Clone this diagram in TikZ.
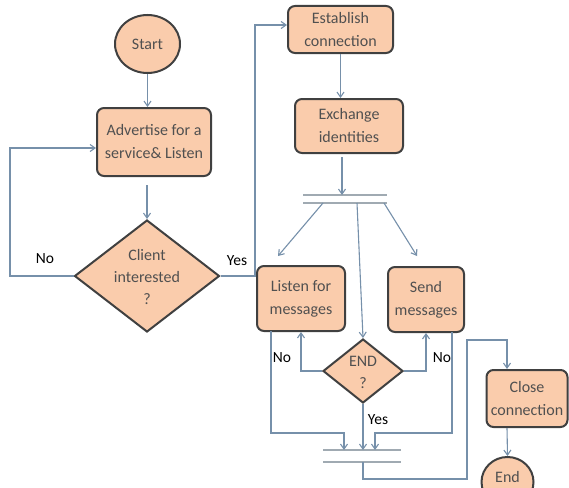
\documentclass[tikz,border=0pt]{standalone}
\usepackage{fontspec}
\setmainfont{Carlito}
\usetikzlibrary{shapes.geometric,arrows.meta}
\definecolor{peach}{RGB}{250,204,172}
\definecolor{edge}{RGB}{64,64,64}
\definecolor{txtc}{RGB}{80,80,80}
\definecolor{flow}{RGB}{118,144,170}
\definecolor{barc}{RGB}{160,170,178}
\tikzset{
  boxnode/.style={draw=edge, line width=2pt, fill=peach, rounded corners=7pt, inner sep=0pt,
    align=center, text=txtc, font=\fontsize{16}{23}\selectfont},
  ovalnode/.style={draw=edge, line width=2pt, fill=peach, ellipse, inner sep=0pt,
    text=txtc, font=\fontsize{16}{23}\selectfont},
  dianode/.style={draw=edge, line width=2pt, fill=peach, diamond, inner sep=0pt},
  diatext/.style={align=center, text=txtc, inner sep=0pt, font=\fontsize{16}{22}\selectfont},
  flowline/.style={draw=flow, line width=1.1pt, -{Straight Barb[length=5pt,width=7pt]}},
  barline/.style={draw=barc, line width=1.8pt},
  lbl/.style={text=black, inner sep=0pt, font=\fontsize{15.5}{18}\selectfont}
}
\begin{document}
\begin{tikzpicture}[x=1pt,y=-1pt]
\useasboundingbox (0,0) rectangle (569,487);
\fill[white] (0,0) rectangle (569,487);

% nodes
\node[ovalnode, minimum width=65, minimum height=58] (start) at (147.5,44) {Start};
\node[boxnode, minimum width=114, minimum height=68] (adv) at (154,142) {Advertise for a\\service\& Listen};
\node[dianode, minimum width=145, minimum height=112] (client) at (147,276) {};
\node[diatext] (clientt) at (147,277) {Client\\interested\\?};
\node[boxnode, minimum width=105, minimum height=47] (est) at (340.5,29.5) {Establish\\connection};
\node[boxnode, minimum width=108, minimum height=54] (exch) at (349,126) {Exchange\\identities};
\node[boxnode, minimum width=88, minimum height=65] (listen) at (301,298.5) {Listen for\\messages};
\node[boxnode, minimum width=76, minimum height=65] (send) at (426,299.5) {Send\\messages};
\node[dianode, minimum width=80, minimum height=64] (endq) at (363,371) {};
\node[diatext] (endqt) at (363,372) {END\\?};
\node[boxnode, minimum width=81, minimum height=57] (close) at (527,398.5) {Close\\connection};
\node[ovalnode, minimum width=52, minimum height=50] (fin) at (507.5,482) {};
\node[text=txtc, inner sep=0pt, font=\fontsize{16}{18}\selectfont] (fint) at (507.5,477) {End};

% fork and join bars
\coordinate (f1l) at (303,195); \coordinate (f1r) at (387,195);
\coordinate (f2l) at (303,203); \coordinate (f2r) at (387,203);
\coordinate (j1l) at (323,450); \coordinate (j1r) at (401,450);
\coordinate (j2l) at (323,462); \coordinate (j2r) at (401,462);
\draw[barline] (f1l) -- (f1r);
\draw[barline] (f2l) -- (f2r);
\draw[barline] (j1l) -- (j1r);
\draw[barline] (j2l) -- (j2r);

% connectors
\draw[flowline] (start.south) -- (start.south |- adv.north);
\draw[flowline] (147,185) -- (client.north);
\coordinate (noL) at (10,148);
\draw[flowline] (client.west) -| (noL) -- (adv.west |- noL);
\coordinate (yesT) at (255,25);
\draw[flowline] (client.east) -| (yesT) -- (est.west |- yesT);
\draw[flowline] (est) -- (est.south |- exch.north);
\coordinate (fin1) at (342,195);
\draw[flowline] (342,157) -- (fin1);
\coordinate (fa) at (323,203); \coordinate (fb) at (357,203); \coordinate (fc) at (384,203);
\draw[flowline] (fa) -- (278,256);
\draw[flowline] (fc) -- (417,256);
\draw[flowline] (fb) -- (endq.north);
\draw[flowline] (endq.west) -| (listen.south);
\draw[flowline] (endq.east) -| (send.south);
\coordinate (ja) at (344,450); \coordinate (jb) at (363,450); \coordinate (jc) at (375,450);
\draw[flowline] (271,331) |- (344,433) -- (ja);
\draw[flowline] (endq.south) -- (jb);
\draw[flowline] (452,332) |- (375,433) -- (jc);
\coordinate (jd) at (363,462);
\draw[flowline] (jd) |- (467,479) |- (507,340) -- (close.north -| 507,0);
\draw[flowline] (close.south -| 507,0) -- (fin.north);

% labels
\node[lbl] (lno1) at (45,259) {No};
\node[lbl] (lyes1) at (237,261) {Yes};
\node[lbl] (lno2) at (282,358) {No};
\node[lbl] (lno3) at (442,358) {No};
\node[lbl] (lyes2) at (378,420) {Yes};
\end{tikzpicture}
\end{document}
